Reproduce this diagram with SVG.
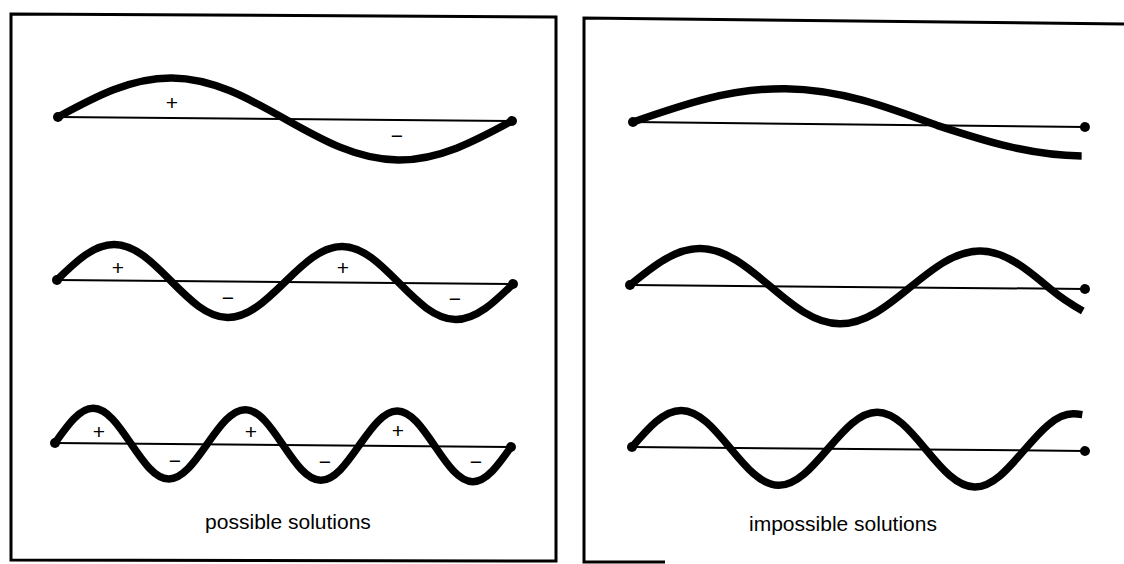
<svg xmlns="http://www.w3.org/2000/svg" width="1124" height="564" viewBox="0 0 1124 564">
<style>
.border{fill:none;stroke:#000;stroke-width:3}
.base{fill:none;stroke:#000;stroke-width:2}
.wave{fill:none;stroke:#000;stroke-width:7.5;stroke-linecap:round;stroke-linejoin:round}
.wave.cut{stroke-linecap:butt}
.dot{fill:#000}
.sign{font-family:"Liberation Sans",Arial,sans-serif;font-size:21px;text-anchor:middle;fill:#000}
.caption{font-family:"Liberation Sans",Arial,sans-serif;font-size:21px;text-anchor:middle;fill:#000}
</style>
<rect width="1124" height="564" fill="#fff"/>

<g id="panel-possible">
  <path class="border" d="M11,14 L556,17 L556,561 L11,560 Z"/>
  <g id="possible-1" transform="translate(58,117) rotate(0.5)">
    <line class="base" x1="0" y1="0" x2="454" y2="0"/>
    <path class="wave" d="M0,0 C37,-20.5 72.4,-40 113.5,-40 C154.6,-40 190,-20.5 227,0 C264,20.5 299.4,40 340.5,40 C381.6,40 417,20.5 454,0"/>
    <circle class="dot" cx="0" cy="0" r="5"/>
    <circle class="dot" cx="454" cy="0" r="5"/>
  </g>
  <text class="sign" x="172" y="110">+</text>
  <text class="sign" x="397" y="143">−</text>

  <g id="possible-2" transform="translate(57,280) rotate(0.5)">
    <line class="base" x1="0" y1="0" x2="456" y2="0"/>
    <path class="wave" d="M0,0 C18.6,-18.5 36.4,-36 57,-36 C77.6,-36 95.4,-18.5 114,0 C132.6,18.5 150.4,36 171,36 C191.6,36 209.4,18.5 228,0 C246.6,-18.5 264.4,-36 285,-36 C305.6,-36 323.4,-18.5 342,0 C360.6,18.5 378.4,36 399,36 C419.6,36 437.4,18.5 456,0"/>
    <circle class="dot" cx="0" cy="0" r="5"/>
    <circle class="dot" cx="456" cy="0" r="5"/>
  </g>
  <text class="sign" x="118" y="275">+</text>
  <text class="sign" x="343" y="275">+</text>
  <text class="sign" x="228" y="305">−</text>
  <text class="sign" x="455" y="306">−</text>

  <g id="possible-3" transform="translate(55,443) rotate(0.5)">
    <line class="base" x1="0" y1="0" x2="456" y2="0"/>
    <path class="wave" d="M0,0 C12.4,-17.9 24.2,-35 38,-35 C51.8,-35 63.6,-17.9 76,0 C88.4,17.9 100.2,35 114,35 C127.8,35 139.6,17.9 152,0 C164.4,-17.9 176.2,-35 190,-35 C203.8,-35 215.6,-17.9 228,0 C240.4,17.9 252.2,35 266,35 C279.8,35 291.6,17.9 304,0 C316.4,-17.9 328.2,-35 342,-35 C355.8,-35 367.6,-17.9 380,0 C392.4,17.9 404.2,35 418,35 C431.8,35 443.6,17.9 456,0"/>
    <circle class="dot" cx="0" cy="0" r="5"/>
    <circle class="dot" cx="456" cy="0" r="5"/>
  </g>
  <text class="sign" x="99" y="439">+</text>
  <text class="sign" x="251" y="439">+</text>
  <text class="sign" x="398" y="438">+</text>
  <text class="sign" x="175" y="468">−</text>
  <text class="sign" x="325" y="469">−</text>
  <text class="sign" x="476" y="469">−</text>

  <text class="caption" x="288" y="529">possible solutions</text>
</g>

<g id="panel-impossible">
  <path class="border" d="M1124,24 L584,18 L584,562 L665,562"/>
  <g id="impossible-1" transform="translate(633,122) rotate(0.63)">
    <line class="base" x1="0" y1="0" x2="452" y2="0"/>
    <path class="wave cut" d="M0,0 C49.6,-17.9 97,-35 152,-35 C207,-35 254.4,-17.9 304,0 C351.3,14.9 396.5,29 449,29"/>
    <circle class="dot" cx="0" cy="0" r="5"/>
    <circle class="dot" cx="452" cy="0" r="5"/>
  </g>

  <g id="impossible-2" transform="translate(630,285) rotate(0.5)">
    <line class="base" x1="0" y1="0" x2="455" y2="0"/>
    <path class="wave cut" d="M0,0 C22.8,-19 44.7,-37 70,-37 C95.3,-37 117.2,-19 140,0 C162.8,19 184.7,37 210,37 C235.3,37 257.2,19 280,0 C302.8,-19 324.7,-37 350,-37 C375.3,-37 397.2,-19 420,0 C431,9 442,16 453,22"/>
    <circle class="dot" cx="0" cy="0" r="5"/>
    <circle class="dot" cx="455" cy="0" r="5"/>
  </g>

  <g id="impossible-3" transform="translate(632,447) rotate(0.5)">
    <line class="base" x1="0" y1="0" x2="453" y2="0"/>
    <path class="wave cut" d="M0,0 C16,-19 31.3,-37 49,-37 C66.7,-37 82,-19 98,0 C114,19 129.3,37 147,37 C164.7,37 180,19 196,0 C212,-19 227.3,-37 245,-37 C262.7,-37 278,-19 294,0 C310,19 325.3,37 343,37 C360.7,37 376,19 392,0 C408,-19 423.3,-37 441,-37 C444,-37 447,-36.7 450,-36.3"/>
    <circle class="dot" cx="0" cy="0" r="5"/>
    <circle class="dot" cx="453" cy="0" r="5"/>
  </g>

  <text class="caption" x="843" y="531">impossible solutions</text>
</g>

<g id="connectors"></g>
</svg>
